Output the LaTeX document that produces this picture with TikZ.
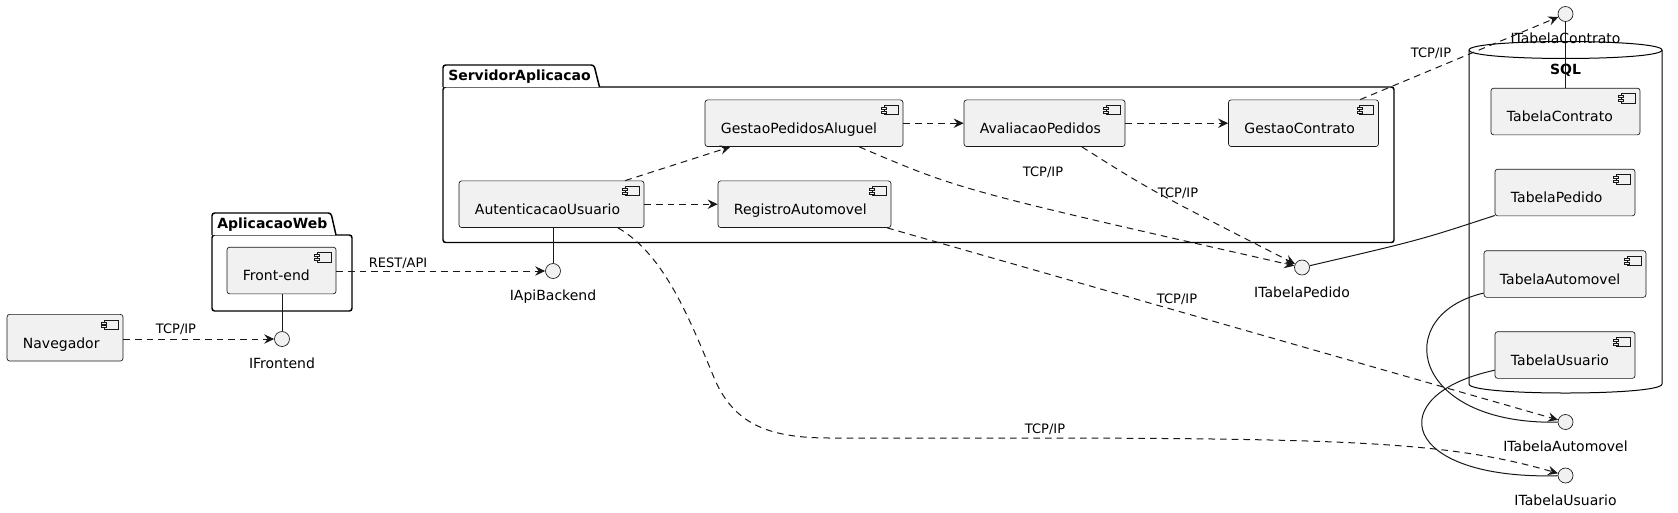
\documentclass[tikz,border=0pt]{standalone}
\usepackage{fontspec}
\setmainfont{DejaVu Sans}
\usetikzlibrary{arrows.meta,calc}
\definecolor{boxfill}{HTML}{F1F1F1}
\definecolor{linec}{HTML}{181818}
\newcommand\cmpfnt{\fontsize{10.5pt}{12pt}\selectfont}
\newcommand\edgfnt{\fontsize{9.75pt}{11pt}\selectfont}
\newcommand\pkgfnt{\fontsize{10.5pt}{12pt}\selectfont\bfseries}
\begin{document}
\begin{tikzpicture}[x=0.75pt,y=-0.75pt,
  comp/.style 2 args={draw=linec, fill=boxfill, line width=0.5pt, rounded corners=2pt,
    inner sep=0pt, minimum width=#1*0.75pt, minimum height=35pt,
    label={[anchor=base west, xshift=12pt, yshift=-25.5pt, font=\cmpfnt, inner sep=0pt]north west:#2},
    path picture={
      \draw[sharp corners, solid, draw=linec, line width=0.5pt, fill=boxfill]
        ([xshift=-14.25pt,yshift=-4.1pt]path picture bounding box.north east) rectangle ++(10.5pt,-7pt);
      \draw[sharp corners, solid, draw=linec, line width=0.5pt, fill=boxfill]
        ([xshift=-16.1pt,yshift=-5.6pt]path picture bounding box.north east) rectangle ++(3.75pt,-1.5pt);
      \draw[sharp corners, solid, draw=linec, line width=0.5pt, fill=boxfill]
        ([xshift=-16.1pt,yshift=-8.4pt]path picture bounding box.north east) rectangle ++(3.75pt,-1.5pt);
    }},
  iface/.style={circle, draw=linec, fill=boxfill, line width=0.5pt, minimum size=11.25pt, inner sep=0pt,
    label={[anchor=base, yshift=-16.5pt, font=\cmpfnt, inner sep=0pt]south:#1}},
  dep/.style={draw=linec, line width=0.75pt, dash pattern=on 5pt off 3.75pt,
    -{Stealth[length=7.5pt, width=7pt, inset=2.6pt]}},
  lnk/.style={draw=linec, line width=0.75pt},
  pkg/.style={draw=black, line width=1.1pt, rounded corners=2pt, fill=white},
  pkgtitle/.style={anchor=base west, font=\pkgfnt, inner sep=0pt},
  cyl/.style={draw=black, line width=0.75pt},
  elab/.style={anchor=base, font=\edgfnt, inner sep=0pt}]

\fill[white] (0,0) rectangle (1678,512);
\useasboundingbox (0,0) rectangle (1678,512);

% packages
\draw[pkg] (212,235) rectangle (352,311);
\draw[pkg] (212,235) -- (212,213) -- (331,213) -- (336,235);
\node[pkgtitle] (pkgweb) at (217,228.5) {AplicacaoWeb};

\draw[pkg] (443,87) rectangle (1394,242.5);
\draw[pkg] (443,87) -- (443,65) -- (594,65) -- (599.5,87);
\node[pkgtitle] (pkgsrv) at (448,80) {ServidorAplicacao};

% database cylinder
\draw[cyl, fill=white] (1469,50) -- (1469,384) .. controls (1469,396) and (1662,396) .. (1662,384)
  -- (1662,50) .. controls (1662,38.7) and (1469,38.7) .. cycle;
\draw[cyl] (1469,50) .. controls (1469,61.3) and (1662,61.3) .. (1662,50);
\node[anchor=base, font=\pkgfnt, inner sep=0pt] (sqltitle) at (1565.5,74) {SQL};

% components
\node[comp={116}{Navegador}] (nav) at (65,337.7) {};
\node[comp={109}{Front-end}] (front) at (281.5,270.5) {};
\node[comp={185}{AutenticacaoUsuario}] (auth) at (551.5,204.2) {};
\node[comp={173}{RegistroAutomovel}] (reg) at (804.5,204.2) {};
\node[comp={198}{GestaoPedidosAluguel}] (gpa) at (804,123.2) {};
\node[comp={161}{AvaliacaoPedidos}] (aval) at (1044.5,123.2) {};
\node[comp={150}{GestaoContrato}] (gcon) at (1303.5,123.2) {};
\node[comp={149}{TabelaContrato}] (tc) at (1565.5,111.5) {};
\node[comp={140}{TabelaPedido}] (tp) at (1565,192.5) {};
\node[comp={162}{TabelaAutomovel}] (ta) at (1565,274) {};
\node[comp={140}{TabelaUsuario}] (tu) at (1565,355) {};

% interfaces
\node[iface=IFrontend] (ifront) at (282,339) {};
\node[iface=IApiBackend] (iapi) at (553,271) {};
\node[iface=ITabelaPedido] (itp) at (1302,267.5) {};
\node[iface=ITabelaContrato] (itc) at (1565.5,14) {};
\node[iface=ITabelaAutomovel] (ita) at (1565.5,422) {};
\node[iface=ITabelaUsuario] (itu) at (1565.5,475.5) {};

% solid links
\draw[lnk] (front.south -| ifront) -- (ifront);
\draw[lnk] (auth.south -| iapi) -- (iapi);
\draw[lnk] (tc) -- (itc);
\draw[lnk] (tp) .. controls (1420,240) .. (itp);
\draw[lnk] (ta) .. controls (1390,315) and (1410,425) .. (ita);
\draw[lnk] (tu) .. controls (1380,395) and (1400,480) .. (itu);

% dependencies
\draw[dep] (nav.east |- ifront) -- (ifront);
\draw[dep] (front.east |- iapi) -- (iapi);
\draw[dep] (auth) -- (gpa);
\draw[dep] (auth) -- (reg);
\draw[dep] (gpa) -- (aval);
\draw[dep] (aval) -- (gcon);
\draw[dep] (gpa) .. controls (960,190) .. (itp);
\draw[dep] (aval) .. controls (1150,190) .. (itp);
\draw[dep] (gcon) -- (itc);
\draw[dep] (reg) -- (ita);
\draw[dep] ($(auth.south)+(66.5,0)$) .. controls (665,255) and (690,320) .. (715,380)
  .. controls (735,425) and (770,438) .. (830,438) -- (1000,438)
  .. controls (1350,438) and (1450,442) .. (itu);

% edge labels
\node[elab] (l1) at (176,333.7) {TCP/IP};
\node[elab] (l2) at (398,267.7) {REST/API};
\node[elab] (l3) at (1043,176.7) {TCP/IP};
\node[elab] (l4) at (1178,197.7) {TCP/IP};
\node[elab] (l5) at (1177,303.7) {TCP/IP};
\node[elab] (l6) at (1045,433.7) {TCP/IP};
\node[elab] (l7) at (1431,57.7) {TCP/IP};
\end{tikzpicture}
\end{document}
